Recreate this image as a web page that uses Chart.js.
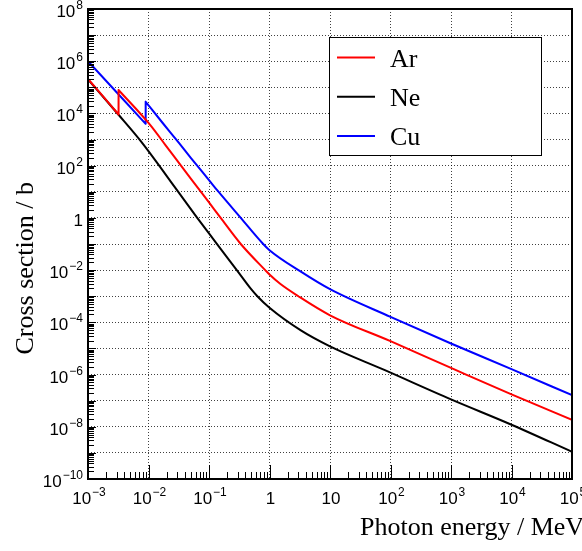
<!DOCTYPE html>
<html>
<head>
<meta charset="utf-8">
<script src="https://cdn.jsdelivr.net/npm/chart.js@4.4.1/dist/chart.umd.min.js"></script>
<style>
    html, body { margin: 0; padding: 0; background: #fff; }
    #wrap { width: 582px; height: 551px; position: relative; }
</style>
</head>
<body>
<div id="wrap"><canvas id="xs-chart"></canvas></div>
<script>
// Photon cross sections (energy in MeV, cross section in barn)
// a repeated energy marks an absorption edge
const arEnergy = [0.001, 0.0032, 0.0032, 0.0108, 0.0192, 0.05, 0.1, 0.156, 0.335, 0.85, 1, 1.5, 3.0, 10, 100, 1000, 10000, 100000];
const arXS     = [2.1e5, 9.1e3, 7.9e4, 3.5e3, 600, 32, 3.9, 1.0, 0.1, 0.01, 6.8e-3, 3.0e-3, 1.0e-3, 1.86e-4, 1.9e-5, 1.8e-6, 1.74e-7, 1.86e-8];

const neEnergy = [0.001, 0.0032, 0.0074, 0.0169, 0.03, 0.063, 0.1, 0.147, 0.29, 0.49, 0.63, 1, 3.3, 10, 79, 1000, 10000, 100000];
const neXS     = [2.0e5, 8.9e3, 890, 69, 11, 1.05, 0.253, 0.078, 9.8e-3, 1.95e-3, 1.0e-3, 3.6e-4, 4.9e-5, 1.2e-5, 1.5e-6, 1.12e-7, 1.2e-8, 1.1e-9];

const cuEnergy = [0.001, 0.00898, 0.00898, 0.0169, 0.0316, 0.05, 0.1, 0.141, 0.335, 0.766, 1, 3.3, 10, 100, 1000, 10000, 100000];
const cuXS     = [1.0e6, 4.0e3, 2.8e4, 4.5e3, 760, 200, 28, 10.5, 1.0, 0.107, 0.058, 8.7e-3, 1.86e-3, 1.62e-4, 1.55e-5, 1.62e-6, 1.62e-7];

// Axis ranges and labelled decades (exponents)
const xMin = 1e-3, xMax = 1e5;
const yMin = 1e-10, yMax = 1e8;
const xLabelExps = [-3, -2, -1, 0, 1, 2, 3, 4, 5];
const yLabelExps = [8, 6, 4, 2, 0, -2, -4, -6, -8, -10];

const xTitle = 'Photon energy / MeV';
const yTitle = 'Cross section / b';

// builds the point list; an edge jump becomes its own straight piece
// so the smoothing of the curve on either side is not disturbed
function toPoints(xs, ys) {
    const pts = [];
    xs.forEach((v, i) => {
        if (i > 0 && v === xs[i - 1]) {
            pts.push({ x: v, y: null });
            pts.push({ x: v * 0.9999, y: ys[i - 1] });
            pts.push({ x: v, y: ys[i] });
            pts.push({ x: v, y: null });
        }
        pts.push({ x: v, y: ys[i] });
    });
    return pts;
}

function decades(lo, hi) {
    const out = [];
    for (let e = Math.round(Math.log10(lo)); e <= Math.round(Math.log10(hi)); e++) {
        out.push({ value: Math.pow(10, e) });
    }
    return out;
}

const tickFont = '17px "Liberation Sans", Arial, sans-serif';
const supFont = '12px "Liberation Sans", Arial, sans-serif';
const serifFont = '26px "Liberation Serif", "Times New Roman", serif';

// draws 10^exp, anchored by its right edge or its centre
function drawPower(ctx, exp, x, baseline, align) {
    let base = '10', sup = '';
    if (exp === 0) base = '1';
    else if (exp !== 1) sup = (exp < 0 ? '\u2212' : '') + Math.abs(exp);
    ctx.font = tickFont;
    const wBase = ctx.measureText(base).width;
    ctx.font = supFont;
    const wSup = sup ? ctx.measureText(sup).width + 1 : 0;
    const total = wBase + wSup;
    const left = align === 'right' ? x - total : x - total / 2;
    ctx.textAlign = 'left';
    ctx.textBaseline = 'alphabetic';
    ctx.font = tickFont;
    ctx.fillText(base, left, baseline);
    if (sup) {
        ctx.font = supFont;
        ctx.fillText(sup, left + wBase + 1, baseline - 8);
    }
}

const axisDecor = {
    id: 'axisDecor',
    afterDatasetsDraw(chart) {
        const { ctx, chartArea: a, scales } = chart;
        const xs = scales.x, ys = scales.y;
        ctx.save();

        // inward ticks on the bottom and left axes
        ctx.strokeStyle = '#000';
        ctx.lineWidth = 1;
        ctx.beginPath();
        for (let e = -3; e < 5; e++) {
            for (let k = 1; k <= 9; k++) {
                const px = Math.round(xs.getPixelForValue(k * Math.pow(10, e))) + 0.5;
                const len = k === 1 ? 14 : 7;
                ctx.moveTo(px, a.bottom);
                ctx.lineTo(px, a.bottom - len);
            }
        }
        for (let e = -10; e < 8; e++) {
            for (let k = 1; k <= 9; k++) {
                const py = Math.round(ys.getPixelForValue(k * Math.pow(10, e))) + 0.5;
                const len = k === 1 ? 8 : 6;
                ctx.moveTo(a.left, py);
                ctx.lineTo(a.left + len, py);
            }
        }
        ctx.stroke();

        // frame
        ctx.lineWidth = 2;
        ctx.strokeRect(a.left, a.top, a.right - a.left, a.bottom - a.top);

        // tick labels
        ctx.fillStyle = '#000';
        xLabelExps.forEach(exp => {
            const px = xs.getPixelForValue(Math.pow(10, exp));
            drawPower(ctx, exp, px + 1, a.bottom + 25, 'center');
        });
        yLabelExps.forEach(exp => {
            const py = ys.getPixelForValue(Math.pow(10, exp));
            drawPower(ctx, exp, a.left - 5, py + 8, 'right');
        });

        // axis titles
        ctx.font = serifFont;
        ctx.textAlign = 'left';
        ctx.textBaseline = 'alphabetic';
        ctx.fillText(xTitle, 360, 535);

        ctx.translate(33, 182);
        ctx.rotate(-Math.PI / 2);
        ctx.textAlign = 'right';
        ctx.fillText(yTitle, 0, 0);
        ctx.restore();

        // legend box
        ctx.save();
        const box = { x: 329.5, y: 37.5, w: 212, h: 118 };
        ctx.fillStyle = '#fff';
        ctx.fillRect(box.x, box.y, box.w, box.h);
        ctx.strokeStyle = '#000';
        ctx.lineWidth = 1;
        ctx.strokeRect(box.x, box.y, box.w, box.h);
        ctx.font = serifFont;
        ctx.textAlign = 'left';
        ctx.textBaseline = 'alphabetic';
        chart.data.datasets.forEach((ds, i) => {
            const ly = 57.5 + i * 39.3;
            ctx.strokeStyle = ds.borderColor;
            ctx.lineWidth = 2;
            ctx.beginPath();
            ctx.moveTo(337, ly);
            ctx.lineTo(375, ly);
            ctx.stroke();
            ctx.fillStyle = '#000';
            ctx.fillText(ds.label, 390, ly + 9);
        });
        ctx.restore();
    }
};

const gridStyle = {
    color: 'rgba(0, 0, 0, 0.75)',
    lineWidth: 1,
    drawTicks: false
};

const lineStyle = {
    borderWidth: 2,
    pointRadius: 0,
    fill: false,
    cubicInterpolationMode: 'monotone',
    borderCapStyle: 'round',
    borderJoinStyle: 'round',
    spanGaps: false
};

new Chart(document.getElementById('xs-chart'), {
    type: 'line',
    data: {
        datasets: [
            { label: 'Ar', data: toPoints(arEnergy, arXS), borderColor: '#ff0000', ...lineStyle },
            { label: 'Ne', data: toPoints(neEnergy, neXS), borderColor: '#000000', ...lineStyle },
            { label: 'Cu', data: toPoints(cuEnergy, cuXS), borderColor: '#0000ff', ...lineStyle }
        ]
    },
    options: {
        responsive: true,
        maintainAspectRatio: false,
        animation: false,
        layout: { padding: { left: 88, right: 10, top: 9, bottom: 72 } },
        plugins: {
            legend: { display: false },
            tooltip: { enabled: false }
        },
        scales: {
            x: {
                type: 'logarithmic',
                min: xMin,
                max: xMax,
                afterBuildTicks: scale => { scale.ticks = decades(xMin, xMax); },
                ticks: { display: false },
                grid: gridStyle,
                border: { display: false, dash: [1, 2] }
            },
            y: {
                type: 'logarithmic',
                min: yMin,
                max: yMax,
                afterBuildTicks: scale => { scale.ticks = decades(yMin, yMax); },
                ticks: { display: false },
                grid: gridStyle,
                border: { display: false, dash: [1, 2] }
            }
        }
    },
    plugins: [axisDecor]
});
</script>
</body>
</html>
